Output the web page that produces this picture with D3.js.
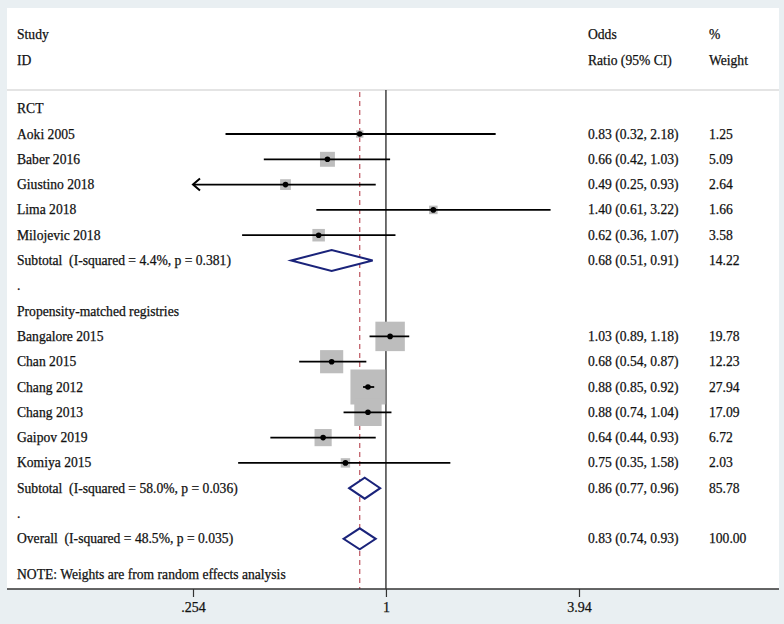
<!DOCTYPE html>
<html>
<head>
<meta charset="utf-8">
<script src="https://cdn.jsdelivr.net/npm/d3@7"></script>
<style>
  html, body { margin: 0; padding: 0; background: #e9eff2; }
  svg { display: block; }
  text { font-family: "Liberation Serif", "Times New Roman", serif; fill: #111; stroke: #111; stroke-width: 0.25; white-space: pre; }
</style>
</head>
<body>
<svg id="chart" width="784" height="624"></svg>
<script>
// ---- Data ----
const rowLabels = [
  "RCT", "Aoki 2005", "Baber 2016", "Giustino 2018", "Lima 2018", "Milojevic 2018",
  "Subtotal  (I-squared = 4.4%, p = 0.381)", ".",
  "Propensity-matched registries", "Bangalore 2015", "Chan 2015", "Chang 2012", "Chang 2013",
  "Gaipov 2019", "Komiya 2015", "Subtotal  (I-squared = 58.0%, p = 0.036)", ".",
  "Overall  (I-squared = 48.5%, p = 0.035)"
];
const rowKinds = ["label","study","study","study","study","study","diamond","label",
  "label","study","study","study","study","study","study","diamond","label","diamond"];
const oddsRatio = [null, 0.83, 0.66, 0.49, 1.40, 0.62, 0.68, null,
  null, 1.03, 0.68, 0.88, 0.88, 0.64, 0.75, 0.86, null, 0.83];
const ciLow = [null, 0.32, 0.42, 0.25, 0.61, 0.36, 0.51, null,
  null, 0.89, 0.54, 0.85, 0.74, 0.44, 0.35, 0.77, null, 0.74];
const ciHigh = [null, 2.18, 1.03, 0.93, 3.22, 1.07, 0.91, null,
  null, 1.18, 0.87, 0.92, 1.04, 0.93, 1.58, 0.96, null, 0.93];
const weights = [null, 1.25, 5.09, 2.64, 1.66, 3.58, 14.22, null,
  null, 19.78, 12.23, 27.94, 17.09, 6.72, 2.03, 85.78, null, 100.00];
const tickValues = [0.254, 1, 3.94];
const tickLabels = [".254", "1", "3.94"];
const overallOR = 0.83;
const noteText = "NOTE: Weights are from random effects analysis";

// ---- Layout ----
const svg = d3.select("#chart");
const W = 784, H = 624;
const frame = {left: 7, right: 779, top: 8, axisY: 589, sepY: 90};

const x = d3.scaleLog().domain([0.254, 3.94]).range([193, 579]);
const y = d3.scaleLinear().domain([0, 17]).range([108.7, 538.8]);
const boxSide = d3.scaleSqrt().domain([0, 27.94]).range([0, 35]);

const fmt2 = d3.format(".2f");

// Background panel
svg.append("rect").attr("x", 0).attr("y", 0).attr("width", W).attr("height", H).attr("fill", "#e9eff2");
svg.append("rect").attr("x", frame.left).attr("y", frame.top)
  .attr("width", frame.right - frame.left).attr("height", frame.axisY - frame.top)
  .attr("fill", "#ffffff");

// Header separator
svg.append("line").attr("x1", frame.left).attr("x2", frame.right)
  .attr("y1", frame.sepY).attr("y2", frame.sepY)
  .attr("stroke", "#c9c9c9").attr("stroke-width", 1.2);

// Headers
const fs = 13.6;
const hdr = svg.append("g").attr("font-size", fs);
[["Study", 17, 34], ["ID", 17, 60], ["Odds", 588, 34], ["Ratio (95% CI)", 588, 60], ["%", 709, 34], ["Weight", 709, 60]]
  .forEach(([t, xx, yy]) => hdr.append("text").attr("x", xx).attr("y", yy + 4.5).text(t));

// Null line
svg.append("line").attr("x1", x(1)).attr("x2", x(1))
  .attr("y1", frame.sepY).attr("y2", frame.axisY)
  .attr("stroke", "#111").attr("stroke-width", 1.2);

// Overall dashed line
svg.append("line").attr("x1", x(overallOR)).attr("x2", x(overallOR))
  .attr("y1", frame.sepY + 2).attr("y2", frame.axisY)
  .attr("stroke", "#c2606a").attr("stroke-width", 1.3).attr("stroke-dasharray", "5,4");

const rows = rowLabels.map((lab, i) => ({
  i, lab, kind: rowKinds[i], or: oddsRatio[i], lo: ciLow[i], hi: ciHigh[i], w: weights[i]
}));

// Row labels
const labG = svg.append("g").attr("font-size", fs);
rows.forEach(r => {
  labG.append("text").attr("x", 17).attr("y", y(r.i) + 4.5).text(r.lab);
  if (r.or !== null) {
    labG.append("text").attr("x", 588).attr("y", y(r.i) + 4.5)
      .text(`${fmt2(r.or)} (${fmt2(r.lo)}, ${fmt2(r.hi)})`);
    labG.append("text").attr("x", 709).attr("y", y(r.i) + 4.5).text(fmt2(r.w));
  }
});

// Study boxes
const studies = rows.filter(r => r.kind === "study");
const [dMin, dMax] = x.domain();
svg.append("g").selectAll("rect").data(studies).join("rect")
  .attr("x", d => x(d.or) - boxSide(d.w) / 2)
  .attr("y", d => y(d.i) - boxSide(d.w) / 2)
  .attr("width", d => boxSide(d.w)).attr("height", d => boxSide(d.w))
  .attr("fill", "#bdbdbd");

// CI lines
const ciG = svg.append("g").attr("stroke", "#000").attr("stroke-width", 1.8).attr("fill", "none");
studies.forEach(d => {
  const lo = Math.max(d.lo, dMin), hi = Math.min(d.hi, dMax);
  ciG.append("line").attr("x1", x(lo)).attr("x2", x(hi)).attr("y1", y(d.i)).attr("y2", y(d.i));
  if (d.lo < dMin) {
    const ax = x(dMin), ay = y(d.i);
    ciG.append("path").attr("d", `M${ax + 7},${ay - 6}L${ax},${ay}L${ax + 7},${ay + 6}`)
      .attr("stroke-width", 2);
  }
  if (d.hi > dMax) {
    const ax = x(dMax), ay = y(d.i);
    ciG.append("path").attr("d", `M${ax - 7},${ay - 6}L${ax},${ay}L${ax - 7},${ay + 6}`)
      .attr("stroke-width", 2);
  }
});

// Points
svg.append("g").selectAll("circle").data(studies).join("circle")
  .attr("cx", d => x(d.or)).attr("cy", d => y(d.i)).attr("r", 2.8).attr("fill", "#000");

// Diamonds
const diamonds = rows.filter(r => r.kind === "diamond");
svg.append("g").selectAll("path").data(diamonds).join("path")
  .attr("d", d => {
    const cy = y(d.i), h = 10.5;
    return `M${x(d.lo)},${cy}L${x(d.or)},${cy - h}L${x(d.hi)},${cy}L${x(d.or)},${cy + h}Z`;
  })
  .attr("fill", "#fff").attr("stroke", "#1a237a").attr("stroke-width", 2);

// Note
svg.append("text").attr("font-size", fs).attr("x", 17).attr("y", y(18.4) + 4.5).text(noteText);

// Axis
const axis = d3.axisBottom(x).tickValues(tickValues)
  .tickFormat((d, i) => tickLabels[i]).tickSizeOuter(0).tickSize(8).tickPadding(5);
const axG = svg.append("g").attr("transform", `translate(0,${frame.axisY})`).call(axis);
axG.select(".domain").remove();
axG.selectAll(".tick line").attr("stroke", "#333").attr("stroke-width", 1.2);
axG.selectAll(".tick text").attr("font-family", "Liberation Serif, serif").attr("font-size", 14).attr("fill", "#111");
svg.append("line").attr("x1", frame.left).attr("x2", frame.right)
  .attr("y1", frame.axisY).attr("y2", frame.axisY)
  .attr("stroke", "#333").attr("stroke-width", 1.6);
</script>
</body>
</html>
